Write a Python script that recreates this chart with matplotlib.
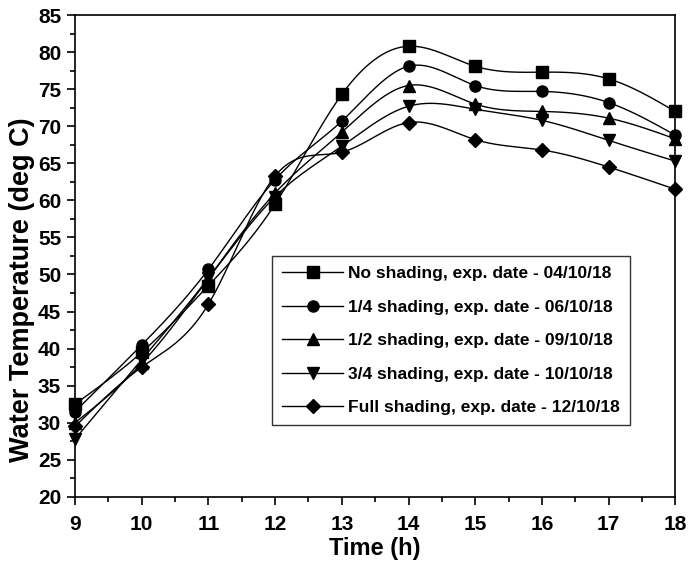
import numpy as np
import matplotlib
matplotlib.use('Agg')
import matplotlib.pyplot as plt
from matplotlib.lines import Line2D

# hours of the day
hours = [9, 10, 11, 12, 13, 14, 15, 16, 17, 18]

# water temperature (deg C)
no_shading = [32.5, 39.5, 48.5, 59.5, 74.3, 80.8, 78.1, 77.3, 76.4, 72.0]
quarter_shading = [31.5, 40.5, 50.7, 62.8, 70.7, 78.1, 75.5, 74.7, 73.2, 68.8]
half_shading = [30.0, 38.0, 49.5, 61.0, 69.2, 75.5, 73.0, 72.0, 71.1, 68.3]
three_quarter_shading = [27.8, 38.5, 49.5, 60.5, 67.3, 72.7, 72.3, 70.8, 68.1, 65.3]
full_shading = [29.5, 37.5, 46.0, 63.3, 66.5, 70.5, 68.2, 66.8, 64.5, 61.5]

labels = ['No shading, exp. date - 04/10/18',
          '1/4 shading, exp. date - 06/10/18',
          '1/2 shading, exp. date - 09/10/18',
          '3/4 shading, exp. date - 10/10/18',
          'Full shading, exp. date - 12/10/18']
series = [no_shading, quarter_shading, half_shading, three_quarter_shading, full_shading]
markers = ['s', 'o', '^', 'v', 'D']


def spline_curve(x, y, n=400):
    """natural cubic spline through the points, only used to draw the smooth connecting line"""
    x = np.asarray(x, float)
    y = np.asarray(y, float)
    k = len(x)
    h = np.diff(x)
    A = np.zeros((k, k))
    b = np.zeros(k)
    A[0, 0] = 1
    A[-1, -1] = 1
    for i in range(1, k - 1):
        A[i, i - 1] = h[i - 1]
        A[i, i] = 2 * (h[i - 1] + h[i])
        A[i, i + 1] = h[i]
        b[i] = 3 * ((y[i + 1] - y[i]) / h[i] - (y[i] - y[i - 1]) / h[i - 1])
    c = np.linalg.solve(A, b)
    xs = np.linspace(x[0], x[-1], n)
    idx = np.clip(np.searchsorted(x, xs) - 1, 0, k - 2)
    dx = xs - x[idx]
    hi = h[idx]
    bb = (y[idx + 1] - y[idx]) / hi - hi * (2 * c[idx] + c[idx + 1]) / 3
    dd = (c[idx + 1] - c[idx]) / (3 * hi)
    ys = y[idx] + bb * dx + c[idx] * dx ** 2 + dd * dx ** 3
    return xs, ys


def main():
    plt.rcParams['font.family'] = ['Liberation Sans', 'DejaVu Sans']
    plt.rcParams['font.weight'] = 'bold'

    fig = plt.figure(figsize=(6.89, 5.81), dpi=100)
    ax = fig.add_axes([0.109, 0.145, 0.871, 0.829])

    handles = []
    for vals, mk, lab in zip(series, markers, labels):
        xs, ys = spline_curve(hours, vals)
        ax.plot(xs, ys, color='black', linewidth=1.0)
        ms = 7 if mk == 'D' else 8
        ax.plot(hours, vals, linestyle='none', marker=mk, color='black', markersize=ms, clip_on=False)
        handles.append(Line2D([], [], color='black', linewidth=1.0, marker=mk, markersize=ms, label=lab))

    ax.set_xlim(9, 18)
    ax.set_ylim(20, 85)
    ax.set_xticks(range(9, 19))
    ax.set_yticks(range(20, 86, 5))
    ax.set_xticks(np.arange(9.5, 18, 1), minor=True)
    ax.set_yticks(np.arange(22.5, 85, 5), minor=True)
    ax.tick_params(which='major', direction='out', length=6, width=1.2, labelsize=15)
    ax.tick_params(axis='x', which='major', pad=7)
    ax.tick_params(axis='y', which='major', pad=4)
    ax.tick_params(which='minor', direction='out', length=3.5, width=1.2)
    for lbl in ax.get_xticklabels() + ax.get_yticklabels():
        lbl.set_fontweight('bold')
    for sp in ax.spines.values():
        sp.set_linewidth(1.2)

    ax.set_xlabel('Time (h)', fontsize=17, fontweight='bold')
    ax.set_ylabel('Water Temperature (deg C)', fontsize=19.5, fontweight='bold')
    ax.xaxis.set_label_coords(0.5, -0.083)
    ax.yaxis.set_label_coords(-0.067, 0.43)

    leg = ax.legend(handles=handles, loc='upper left', bbox_to_anchor=(0.328, 0.5),
                    prop={'size': 12.5, 'weight': 'bold'}, frameon=True, fancybox=False,
                    edgecolor='black', handlelength=3.5, labelspacing=1.05,
                    handletextpad=0.3, borderpad=0.6, borderaxespad=0)
    leg.get_frame().set_linewidth(1.0)

    fig.savefig('out.png', dpi=100)


if __name__ == "__main__":
    main()
